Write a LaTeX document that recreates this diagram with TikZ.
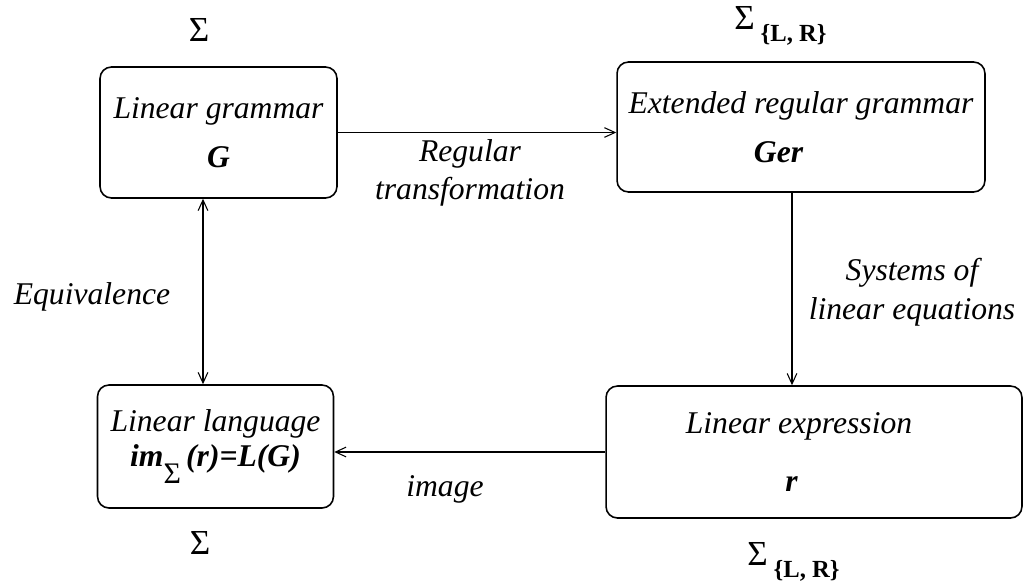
\documentclass[tikz,border=0pt]{standalone}
\usepackage{fontspec}
\setmainfont{Liberation Serif}
\usetikzlibrary{arrows.meta,positioning,calc}
\tikzset{
  stagebox/.style={
    rectangle, rounded corners=6.5pt, draw, line width=0.9pt,
    align=center, inner sep=3pt,
    font=\fontsize{18}{22}\selectfont\itshape
  },
  flowarrow/.style={
    -{Straight Barb[length=6pt,width=5.5pt]}, line width=0.6pt
  },
  edgelabel/.style={
    font=\fontsize{18}{22}\selectfont\itshape, align=center
  },
  sigmalabel/.style={
    font=\fontsize{20}{22}\selectfont, inner sep=0pt
  },
}
% alphabet with the two markers
\newcommand{\sigLR}{Σ\,\raisebox{-0.7ex}{\fontsize{14}{15}\selectfont\bfseries\{L, R\}}}

\begin{document}
\begin{tikzpicture}[x=0.02cm, y=-0.02cm]
  \useasboundingbox (0,0) rectangle (1027,581);

  % Four stages
  \node[stagebox, minimum width=4.74cm, minimum height=2.62cm] (gram) at (218.5,132.5)
    {Linear grammar\\[6pt] \textbf{G}};
  \node[stagebox, minimum width=7.36cm, minimum height=2.6cm] (ger) at (801,127)
    {Extended regular grammar\\[6pt] \textbf{Ger}\hspace*{0.9cm}};
  \node[stagebox, minimum width=8.32cm, minimum height=2.64cm] (expr) at (814,452)
    {Linear expression\hspace*{0.6cm}\\[11pt] \textbf{r}\hspace*{0.9cm}};
  \node[stagebox, minimum width=4.72cm, minimum height=2.46cm] (lang) at (215.5,446.5)
    {Linear language\\[-2pt]
     \textbf{im}\raisebox{-1.2ex}{\fontsize{17}{17}\selectfont\upshape Σ}\,\textbf{(r)=L(G)}};

  % Alphabets
  \node[sigmalabel] (sigA) at (199,30) {Σ};
  \node[sigmalabel, anchor=west] (sigB) at (734,26) {\sigLR};
  \node[sigmalabel, anchor=west] (sigC) at (747,562) {\sigLR};
  \node[sigmalabel] (sigD) at (200,543) {Σ};

  % Transformations
  \draw[flowarrow] (gram.east) -- (gram.east -| ger.west);
  \node[edgelabel] (lbreg) at (470,173) {Regular\\transformation};

  \draw[flowarrow] ([xshift=-0.18cm]ger.south) -- ([xshift=-0.18cm]ger.south |- expr.north);
  \node[edgelabel] (lbsys) at (912,292) {Systems of\\linear equations};

  \draw[flowarrow] (expr.west) -- (expr.west -| lang.east);
  \node[edgelabel] (lbimg) at (445,489) {image};

  \draw[flowarrow, {Straight Barb[length=6pt,width=5.5pt]}-{Straight Barb[length=6pt,width=5.5pt]}]
    ([xshift=-0.31cm]gram.south) -- ([xshift=-0.31cm]gram.south |- lang.north);
  \node[edgelabel] (lbeq) at (92,297) {Equivalence};
\end{tikzpicture}
\end{document}
